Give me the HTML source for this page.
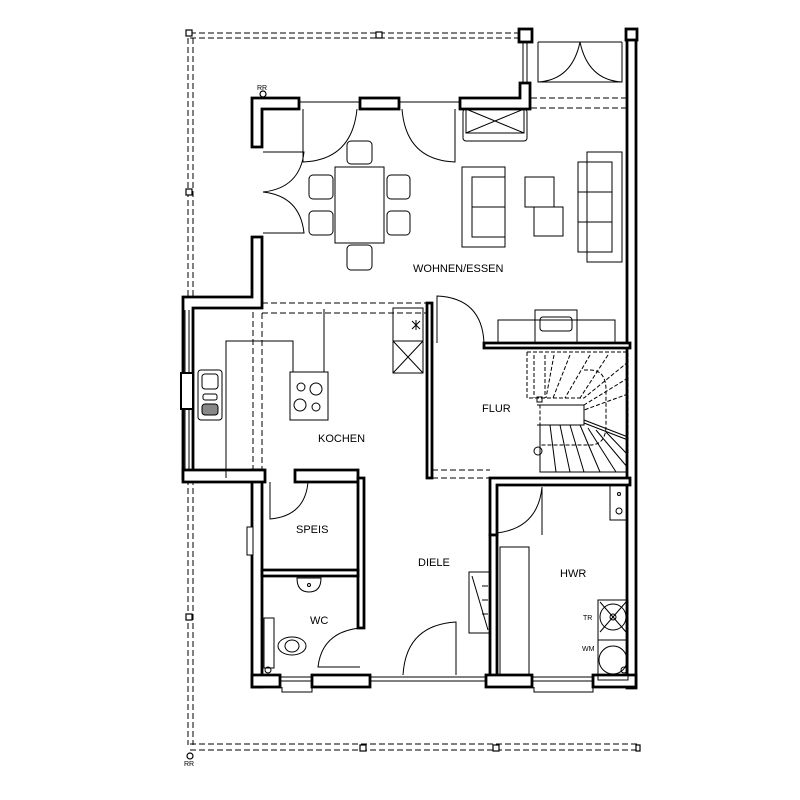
<!DOCTYPE html>
<html><head><meta charset="utf-8"><style>
html,body{margin:0;padding:0;background:#fff;width:800px;height:800px;overflow:hidden}
svg text{font-family:"Liberation Sans",sans-serif;font-size:11px;fill:#000}
</style></head><body>
<svg width="800" height="800" viewBox="0 0 800 800" xmlns="http://www.w3.org/2000/svg">
<g fill="none" stroke="#000" stroke-width="1.2">
<g stroke-dasharray="6,3" stroke-width="1">
<path d="M190 33 H520 M190 38 H520"/>
<path d="M188 38 V745 M193 38 V745"/>
<path d="M190 744 H640 M190 750 H640"/>
<path d="M522 98 H632 M522 108 H632"/>
<path d="M253 303 H428 M262 313 H428 M253 303 V482 M262 313 V482"/>
<path d="M432 470 H490 M432 478 H490"/>
</g>
<rect x="186" y="30" width="6" height="6" fill="#fff"/>
<rect x="376" y="32" width="6" height="6" fill="#fff"/>
<rect x="186" y="189" width="6" height="6" fill="#fff"/>
<rect x="186" y="614" width="6" height="6" fill="#fff"/>
<rect x="360" y="745" width="6" height="6" fill="#fff"/>
<rect x="493" y="745" width="6" height="6" fill="#fff"/>
<rect x="636" y="745" width="4" height="6" fill="#fff"/>
<circle cx="190" cy="756" r="3"/>
<circle cx="263" cy="94" r="3"/>
</g>
<g fill="#fff" stroke="#000" stroke-width="2.8">
<path d="M627 30 H636 V688 H627 Z"/>
<rect x="626" y="29" width="11" height="11"/>
<rect x="519" y="29" width="13" height="13"/>
<path d="M252 98 H299 V109 H262 V147 H252 Z"/>
<rect x="360" y="98" width="39" height="11"/>
<path d="M460 98 H520 V83 H530 V109 H460 Z"/>
<path d="M252 237 H262 V308 H193 V478 H183 V297 H252 Z"/>
<path d="M252 470 H262 V687 H252 Z"/>
<path d="M183 470 H265 V482 H183 Z"/>
<path d="M427 303 H432 V478 H427 Z"/>
<path d="M484 343 H630 V348 H484 Z"/>
<path d="M295 470 H358 V482 H295 Z"/>
<path d="M358 478 H364 V628 H358 Z"/>
<path d="M262 570 H358 V576 H262 Z"/>
<path d="M490 478 H630 V485 H497 V535 H490 Z"/>
<path d="M490 535 H497 V683 H490 Z"/>
<path d="M252 675 H280 V687 H252 Z"/>
<path d="M312 675 H370 V687 H312 Z"/>
<path d="M486 675 H532 V687 H486 Z"/>
<path d="M593 675 H636 V687 H593 Z"/>
</g>
<g fill="none" stroke="#000" stroke-width="1">
<path d="M280 677 H312 M280 681 H312 M282 687 V692 H312 V687"/>
<path d="M370 677 H486 M370 681 H486"/>
<path d="M532 677 H593 M532 681 H593 M534 687 V692 H593 V687"/>
<path d="M185 310 V470 M189 310 V470"/>
<rect x="181" y="373" width="12" height="36" fill="#fff" stroke-width="2"/>
<rect x="247" y="527" width="6" height="28" fill="#fff"/>
<path d="M523 42 V83 M527 42 V83"/>
<path d="M299 102 H360 M399 102 H460"/>
<path d="M538 42 V82 H622 V42 M538 42 H622"/>
<path d="M538 82 Q572 80 580 42 M580 42 Q588 80 622 82"/>
<path d="M303 109 V162 Q352 160 357 109"/>
<path d="M455 109 V162 Q406 160 402 109"/>
<path d="M263 152 H304 Q300 188 263 192"/>
<path d="M263 192 Q300 196 304 233 H263"/>
<rect x="463" y="109" width="64" height="32" rx="3"/>
<rect x="466" y="109" width="58" height="24"/>
<path d="M466 109 L524 133 M524 109 L466 133"/>
<rect x="335" y="167" width="49" height="76"/>
<rect x="347" y="141" width="25" height="23" rx="4"/>
<rect x="347" y="245" width="25" height="25" rx="4"/>
<rect x="309" y="175" width="24" height="24" rx="4"/>
<rect x="309" y="211" width="24" height="24" rx="4"/>
<rect x="387" y="175" width="23" height="24" rx="4"/>
<rect x="387" y="211" width="23" height="24" rx="4"/>
<rect x="462" y="167" width="43" height="80"/>
<rect x="472" y="177" width="33" height="60"/><path d="M472 207 H505"/>
<rect x="525" y="177" width="29" height="30"/>
<rect x="534" y="207" width="29" height="29"/>
<rect x="587" y="152" width="35" height="110"/>
<rect x="578" y="162" width="34" height="90"/><path d="M578 192 H612 M578 222 H612"/>
<rect x="498" y="320" width="117" height="23"/>
<rect x="535" y="310" width="42" height="33"/>
<rect x="540" y="317" width="32" height="14" rx="3"/>
<path d="M437 343 V296 Q482 298 484 343"/>
<path d="M226 478 V341 H293 V372 M324 309 V372"/>
<rect x="290" y="372" width="38" height="48"/>
<circle cx="301" cy="387" r="4"/><circle cx="316" cy="389" r="6"/>
<circle cx="300" cy="405" r="6"/><circle cx="316" cy="407" r="4"/>
<rect x="198" y="370" width="24" height="50" rx="3"/>
<rect x="202" y="374" width="16" height="15" rx="3"/>
<rect x="203" y="394" width="14" height="6" rx="2"/>
<rect x="202" y="404" width="16" height="11" rx="3" fill="#888"/>
<rect x="393" y="308" width="30" height="65"/>
<path d="M393 341 H423 M393 341 L423 373 M423 341 L393 373"/>
<path d="M412 321 L420 329 M420 321 L412 329 M416 320 V330"/>
<g stroke-dasharray="4,2">
<path d="M527 352 H628 V455 M527 352 V398 H584"/>
<path d="M534 355 V398 M545 355 V398 M554 355 L546 398 M570 355 L553 398 M590 355 L565 398 M608 355 L580 398 M628 362 L584 398 M628 378 L584 405 M628 394 L584 410"/>
<path d="M584 370 H590 Q606 370 606 390 V425 Q606 445 590 445 H540 V405"/>
</g>
<path d="M537 405 H584 V425 H537 M540 425 V472 H628 M584 420 L628 437 M584 423 L628 440"/>
<path d="M550 425 L556 472 M560 425 L570 472 M570 425 L584 472 M580 425 L600 472 M588 428 L616 472 M596 430 L628 468 M606 432 L628 455"/>
<circle cx="538" cy="451" r="4"/>
<rect x="537" y="397" width="5" height="5"/>
<path d="M270 482 V519 Q305 516 308 482"/>
<path d="M297 578 Q297 592 309 592 Q321 592 321 578 Z"/><circle cx="309" cy="585" r="1.5"/>
<rect x="264" y="618" width="10" height="50"/>
<ellipse cx="292" cy="646" rx="14" ry="9"/><ellipse cx="292" cy="646" rx="7" ry="6"/>
<circle cx="268" cy="670" r="3"/>
<path d="M360 628 Q322 632 318 667 H360"/>
<path d="M456 675 V622 Q406 625 403 675"/>
<rect x="469" y="572" width="21" height="61"/>
<path d="M472 576 L488 630 M482 586 H488 M482 600 H488 M482 614 H488"/>
<path d="M542 487 V535 M497 533 Q538 528 542 487"/>
<rect x="500" y="547" width="29" height="128"/>
<rect x="610" y="485" width="17" height="35"/>
<circle cx="619" cy="511" r="3"/><circle cx="619" cy="494" r="1.5"/>
<rect x="598" y="600" width="30" height="40"/>
<rect x="598" y="640" width="30" height="40"/>
<circle cx="613" cy="617" r="13"/><circle cx="613" cy="617" r="3"/>
<path d="M600 602 L626 632 M626 602 L600 632"/>
<circle cx="613" cy="660" r="14"/>
<circle cx="624" cy="670" r="3"/>
</g>
<text x="413" y="272">WOHNEN/ESSEN</text>
<text x="318" y="442">KOCHEN</text>
<text x="482" y="412">FLUR</text>
<text x="296" y="533">SPEIS</text>
<text x="418" y="566">DIELE</text>
<text x="560" y="577">HWR</text>
<text x="310" y="624">WC</text>
<text x="583" y="620" style="font-size:7px">TR</text>
<text x="582" y="651" style="font-size:7px">WM</text>
<text x="257" y="90" style="font-size:7px">RR</text>
<text x="184" y="766" style="font-size:7px">RR</text>
</svg>
</body></html>
